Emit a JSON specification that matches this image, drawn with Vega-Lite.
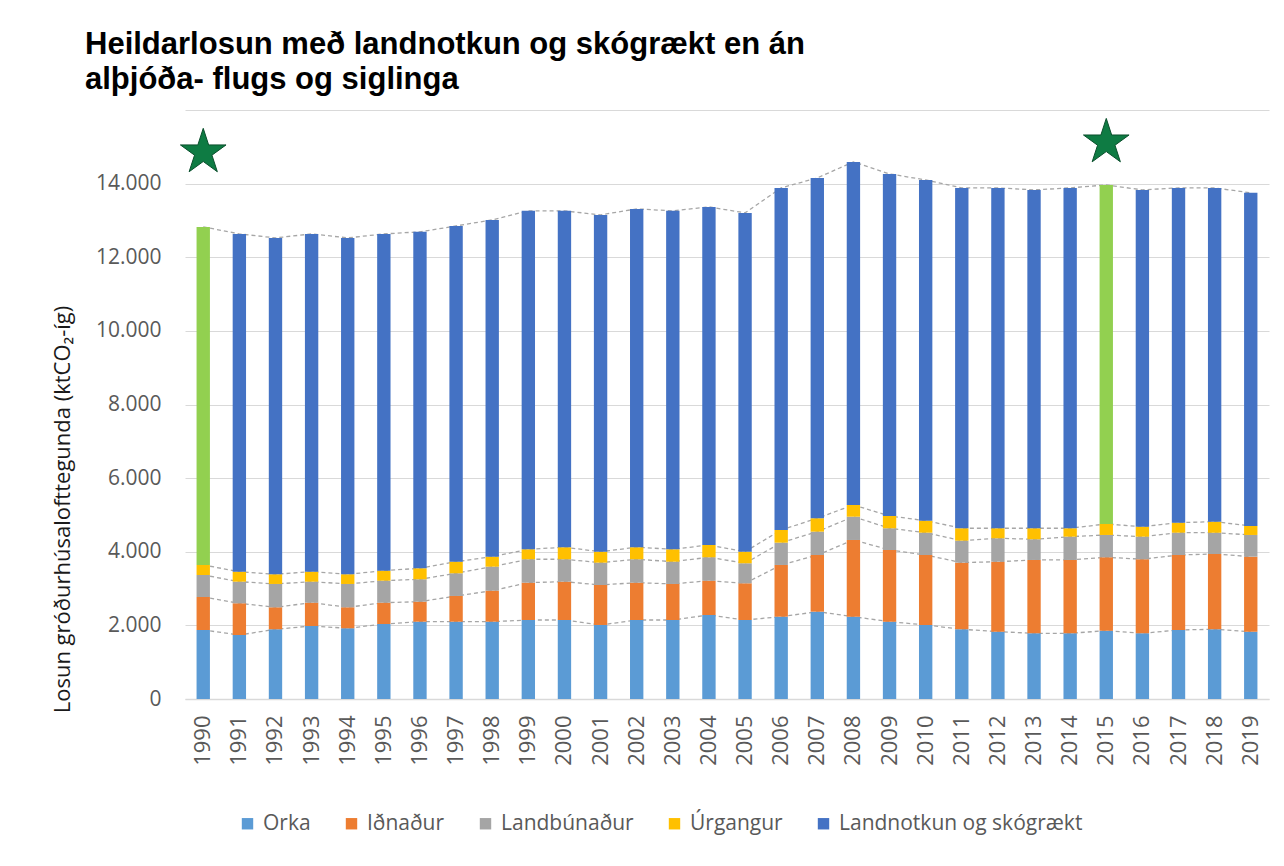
{
  "$schema": "https://vega.github.io/schema/vega-lite/v6.json",
  "width": 1084,
  "height": 589,
  "autosize": {"type": "none"},
  "padding": {"left": 185, "top": 110, "right": 15, "bottom": 167},
  "background": "white",
  "title": {
    "text": ["Heildarlosun með landnotkun og skógrækt en án", "alþjóða- flugs og siglinga"],
    "font": "Liberation Sans",
    "fontWeight": "bold",
    "fontSize": 31,
    "lineHeight": 35,
    "color": "#000000",
    "anchor": "start",
    "frame": "group",
    "dx": -100,
    "offset": 14
  },
  "config": {
    "locale": {"number": {"decimal": ",", "thousands": ".", "grouping": [3], "currency": ["", ""]}},
    "view": {"stroke": null},
    "font": "Open Sans"
  },
  "datasets": {
    "losun": [
      {"year": "1990", "cat": "Orka", "n": 1, "v": 1875}, {"year": "1990", "cat": "Iðnaður", "n": 2, "v": 896}, {"year": "1990", "cat": "Landbúnaður", "n": 3, "v": 598}, {"year": "1990", "cat": "Úrgangur", "n": 4, "v": 272}, {"year": "1990", "cat": "Landnotkun og skógrækt", "n": 5, "v": 9184},
      {"year": "1991", "cat": "Orka", "n": 1, "v": 1739}, {"year": "1991", "cat": "Iðnaður", "n": 2, "v": 861}, {"year": "1991", "cat": "Landbúnaður", "n": 3, "v": 587}, {"year": "1991", "cat": "Úrgangur", "n": 4, "v": 272}, {"year": "1991", "cat": "Landnotkun og skógrækt", "n": 5, "v": 9175},
      {"year": "1992", "cat": "Orka", "n": 1, "v": 1894}, {"year": "1992", "cat": "Iðnaður", "n": 2, "v": 597}, {"year": "1992", "cat": "Landbúnaður", "n": 3, "v": 634}, {"year": "1992", "cat": "Úrgangur", "n": 4, "v": 263}, {"year": "1992", "cat": "Landnotkun og skógrækt", "n": 5, "v": 9138},
      {"year": "1993", "cat": "Orka", "n": 1, "v": 1983}, {"year": "1993", "cat": "Iðnaður", "n": 2, "v": 634}, {"year": "1993", "cat": "Landbúnaður", "n": 3, "v": 570}, {"year": "1993", "cat": "Úrgangur", "n": 4, "v": 272}, {"year": "1993", "cat": "Landnotkun og skógrækt", "n": 5, "v": 9175},
      {"year": "1994", "cat": "Orka", "n": 1, "v": 1921}, {"year": "1994", "cat": "Iðnaður", "n": 2, "v": 570}, {"year": "1994", "cat": "Landbúnaður", "n": 3, "v": 634}, {"year": "1994", "cat": "Úrgangur", "n": 4, "v": 263}, {"year": "1994", "cat": "Landnotkun og skógrækt", "n": 5, "v": 9138},
      {"year": "1995", "cat": "Orka", "n": 1, "v": 2038}, {"year": "1995", "cat": "Iðnaður", "n": 2, "v": 579}, {"year": "1995", "cat": "Landbúnaður", "n": 3, "v": 597}, {"year": "1995", "cat": "Úrgangur", "n": 4, "v": 272}, {"year": "1995", "cat": "Landnotkun og skógrækt", "n": 5, "v": 9148},
      {"year": "1996", "cat": "Orka", "n": 1, "v": 2100}, {"year": "1996", "cat": "Iðnaður", "n": 2, "v": 544}, {"year": "1996", "cat": "Landbúnaður", "n": 3, "v": 608}, {"year": "1996", "cat": "Úrgangur", "n": 4, "v": 299}, {"year": "1996", "cat": "Landnotkun og skógrækt", "n": 5, "v": 9139},
      {"year": "1997", "cat": "Orka", "n": 1, "v": 2100}, {"year": "1997", "cat": "Iðnaður", "n": 2, "v": 699}, {"year": "1997", "cat": "Landbúnaður", "n": 3, "v": 616}, {"year": "1997", "cat": "Úrgangur", "n": 4, "v": 315}, {"year": "1997", "cat": "Landnotkun og skógrækt", "n": 5, "v": 9121},
      {"year": "1998", "cat": "Orka", "n": 1, "v": 2100}, {"year": "1998", "cat": "Iðnaður", "n": 2, "v": 843}, {"year": "1998", "cat": "Landbúnaður", "n": 3, "v": 652}, {"year": "1998", "cat": "Úrgangur", "n": 4, "v": 271}, {"year": "1998", "cat": "Landnotkun og skógrækt", "n": 5, "v": 9149},
      {"year": "1999", "cat": "Orka", "n": 1, "v": 2146}, {"year": "1999", "cat": "Iðnaður", "n": 2, "v": 1014}, {"year": "1999", "cat": "Landbúnaður", "n": 3, "v": 636}, {"year": "1999", "cat": "Úrgangur", "n": 4, "v": 271}, {"year": "1999", "cat": "Landnotkun og skógrækt", "n": 5, "v": 9193},
      {"year": "2000", "cat": "Orka", "n": 1, "v": 2146}, {"year": "2000", "cat": "Iðnaður", "n": 2, "v": 1041}, {"year": "2000", "cat": "Landbúnaður", "n": 3, "v": 609}, {"year": "2000", "cat": "Úrgangur", "n": 4, "v": 326}, {"year": "2000", "cat": "Landnotkun og skógrækt", "n": 5, "v": 9138},
      {"year": "2001", "cat": "Orka", "n": 1, "v": 2011}, {"year": "2001", "cat": "Iðnaður", "n": 2, "v": 1086}, {"year": "2001", "cat": "Landbúnaður", "n": 3, "v": 607}, {"year": "2001", "cat": "Úrgangur", "n": 4, "v": 298}, {"year": "2001", "cat": "Landnotkun og skógrækt", "n": 5, "v": 9148},
      {"year": "2002", "cat": "Orka", "n": 1, "v": 2146}, {"year": "2002", "cat": "Iðnaður", "n": 2, "v": 1014}, {"year": "2002", "cat": "Landbúnaður", "n": 3, "v": 636}, {"year": "2002", "cat": "Úrgangur", "n": 4, "v": 326}, {"year": "2002", "cat": "Landnotkun og skógrækt", "n": 5, "v": 9192},
      {"year": "2003", "cat": "Orka", "n": 1, "v": 2146}, {"year": "2003", "cat": "Iðnaður", "n": 2, "v": 979}, {"year": "2003", "cat": "Landbúnaður", "n": 3, "v": 605}, {"year": "2003", "cat": "Úrgangur", "n": 4, "v": 337}, {"year": "2003", "cat": "Landnotkun og skógrækt", "n": 5, "v": 9193},
      {"year": "2004", "cat": "Orka", "n": 1, "v": 2282}, {"year": "2004", "cat": "Iðnaður", "n": 2, "v": 932}, {"year": "2004", "cat": "Landbúnaður", "n": 3, "v": 636}, {"year": "2004", "cat": "Úrgangur", "n": 4, "v": 334}, {"year": "2004", "cat": "Landnotkun og skógrækt", "n": 5, "v": 9184},
      {"year": "2005", "cat": "Orka", "n": 1, "v": 2146}, {"year": "2005", "cat": "Iðnaður", "n": 2, "v": 997}, {"year": "2005", "cat": "Landbúnaður", "n": 3, "v": 544}, {"year": "2005", "cat": "Úrgangur", "n": 4, "v": 315}, {"year": "2005", "cat": "Landnotkun og skógrækt", "n": 5, "v": 9203},
      {"year": "2006", "cat": "Orka", "n": 1, "v": 2236}, {"year": "2006", "cat": "Iðnaður", "n": 2, "v": 1405}, {"year": "2006", "cat": "Landbúnaður", "n": 3, "v": 606}, {"year": "2006", "cat": "Úrgangur", "n": 4, "v": 345}, {"year": "2006", "cat": "Landnotkun og skógrækt", "n": 5, "v": 9292},
      {"year": "2007", "cat": "Orka", "n": 1, "v": 2372}, {"year": "2007", "cat": "Iðnaður", "n": 2, "v": 1540}, {"year": "2007", "cat": "Landbúnaður", "n": 3, "v": 634}, {"year": "2007", "cat": "Úrgangur", "n": 4, "v": 364}, {"year": "2007", "cat": "Landnotkun og skógrækt", "n": 5, "v": 9246},
      {"year": "2008", "cat": "Orka", "n": 1, "v": 2236}, {"year": "2008", "cat": "Iðnaður", "n": 2, "v": 2084}, {"year": "2008", "cat": "Landbúnaður", "n": 3, "v": 633}, {"year": "2008", "cat": "Úrgangur", "n": 4, "v": 318}, {"year": "2008", "cat": "Landnotkun og skógrækt", "n": 5, "v": 9319},
      {"year": "2009", "cat": "Orka", "n": 1, "v": 2100}, {"year": "2009", "cat": "Iðnaður", "n": 2, "v": 1948}, {"year": "2009", "cat": "Landbúnaður", "n": 3, "v": 590}, {"year": "2009", "cat": "Úrgangur", "n": 4, "v": 334}, {"year": "2009", "cat": "Landnotkun og skógrækt", "n": 5, "v": 9292},
      {"year": "2010", "cat": "Orka", "n": 1, "v": 2011}, {"year": "2010", "cat": "Iðnaður", "n": 2, "v": 1901}, {"year": "2010", "cat": "Landbúnaður", "n": 3, "v": 606}, {"year": "2010", "cat": "Úrgangur", "n": 4, "v": 326}, {"year": "2010", "cat": "Landnotkun og skógrækt", "n": 5, "v": 9256},
      {"year": "2011", "cat": "Orka", "n": 1, "v": 1894}, {"year": "2011", "cat": "Iðnaður", "n": 2, "v": 1810}, {"year": "2011", "cat": "Landbúnaður", "n": 3, "v": 597}, {"year": "2011", "cat": "Úrgangur", "n": 4, "v": 337}, {"year": "2011", "cat": "Landnotkun og skógrækt", "n": 5, "v": 9246},
      {"year": "2012", "cat": "Orka", "n": 1, "v": 1829}, {"year": "2012", "cat": "Iðnaður", "n": 2, "v": 1901}, {"year": "2012", "cat": "Landbúnaður", "n": 3, "v": 636}, {"year": "2012", "cat": "Úrgangur", "n": 4, "v": 272}, {"year": "2012", "cat": "Landnotkun og skógrækt", "n": 5, "v": 9246},
      {"year": "2013", "cat": "Orka", "n": 1, "v": 1785}, {"year": "2013", "cat": "Iðnaður", "n": 2, "v": 1992}, {"year": "2013", "cat": "Landbúnaður", "n": 3, "v": 562}, {"year": "2013", "cat": "Úrgangur", "n": 4, "v": 299}, {"year": "2013", "cat": "Landnotkun og skógrækt", "n": 5, "v": 9192},
      {"year": "2014", "cat": "Orka", "n": 1, "v": 1785}, {"year": "2014", "cat": "Iðnaður", "n": 2, "v": 1992}, {"year": "2014", "cat": "Landbúnaður", "n": 3, "v": 633}, {"year": "2014", "cat": "Úrgangur", "n": 4, "v": 228}, {"year": "2014", "cat": "Landnotkun og skógrækt", "n": 5, "v": 9246},
      {"year": "2015", "cat": "Orka", "n": 1, "v": 1856}, {"year": "2015", "cat": "Iðnaður", "n": 2, "v": 1994}, {"year": "2015", "cat": "Landbúnaður", "n": 3, "v": 606}, {"year": "2015", "cat": "Úrgangur", "n": 4, "v": 299}, {"year": "2015", "cat": "Landnotkun og skógrækt", "n": 5, "v": 9210},
      {"year": "2016", "cat": "Orka", "n": 1, "v": 1785}, {"year": "2016", "cat": "Iðnaður", "n": 2, "v": 2011}, {"year": "2016", "cat": "Landbúnaður", "n": 3, "v": 614}, {"year": "2016", "cat": "Úrgangur", "n": 4, "v": 271}, {"year": "2016", "cat": "Landnotkun og skógrækt", "n": 5, "v": 9149},
      {"year": "2017", "cat": "Orka", "n": 1, "v": 1875}, {"year": "2017", "cat": "Iðnaður", "n": 2, "v": 2037}, {"year": "2017", "cat": "Landbúnaður", "n": 3, "v": 606}, {"year": "2017", "cat": "Úrgangur", "n": 4, "v": 272}, {"year": "2017", "cat": "Landnotkun og skógrækt", "n": 5, "v": 9094},
      {"year": "2018", "cat": "Orka", "n": 1, "v": 1894}, {"year": "2018", "cat": "Iðnaður", "n": 2, "v": 2046}, {"year": "2018", "cat": "Landbúnaður", "n": 3, "v": 578}, {"year": "2018", "cat": "Úrgangur", "n": 4, "v": 299}, {"year": "2018", "cat": "Landnotkun og skógrækt", "n": 5, "v": 9067},
      {"year": "2019", "cat": "Orka", "n": 1, "v": 1829}, {"year": "2019", "cat": "Iðnaður", "n": 2, "v": 2037}, {"year": "2019", "cat": "Landbúnaður", "n": 3, "v": 590}, {"year": "2019", "cat": "Úrgangur", "n": 4, "v": 244}, {"year": "2019", "cat": "Landnotkun og skógrækt", "n": 5, "v": 9050}
    ],
    "stjornur": [
      {"year": "1990", "v": 14850},
      {"year": "2015", "v": 15120}
    ]
  },
  "data": {"name": "losun"},
  "transform": [
    {"stack": "v", "groupby": ["year"], "sort": [{"field": "n", "order": "ascending"}], "as": ["lo", "hi"]}
  ],
  "encoding": {
    "x": {
      "field": "year",
      "type": "ordinal",
      "scale": {"paddingInner": 0.63, "paddingOuter": 0.32},
      "axis": {
        "title": null,
        "labelAngle": -90,
        "labelFontSize": 22,
        "labelColor": "#595959",
        "labelPadding": 16,
        "ticks": false,
        "domainColor": "#d9d9d9",
        "domainWidth": 1.5
      }
    }
  },
  "layer": [
    {
      "mark": {"type": "line", "color": "#a6a6a6", "strokeWidth": 1.3, "strokeDash": [4, 3]},
      "encoding": {
        "y": {"field": "hi", "type": "quantitative"},
        "detail": {"field": "cat", "type": "nominal"}
      }
    },
    {
      "mark": {"type": "bar"},
      "encoding": {
        "y": {
          "field": "hi",
          "type": "quantitative",
          "scale": {"domain": [0, 16000], "nice": false},
          "axis": {
            "title": "Losun gróðurhúsalofttegunda (ktCO₂-íg)",
            "titleFont": "Open Sans",
            "titleFontSize": 22,
            "titleFontWeight": "normal",
            "titleColor": "#1a1a1a",
            "titleAngle": -90,
            "titleX": -123,
            "titleY": 399,
            "titleAlign": "center",
            "titleBaseline": "middle",
            "values": [0, 2000, 4000, 6000, 8000, 10000, 12000, 14000, 16000],
            "format": ",d",
            "labelExpr": "datum.value == 16000 ? '' : datum.label",
            "labelFontSize": 21,
            "labelColor": "#595959",
            "labelPadding": 24,
            "ticks": false,
            "domain": false,
            "gridColor": "#d9d9d9",
            "gridWidth": 1.2
          }
        },
        "y2": {"field": "lo"},
        "color": {
          "condition": {
            "test": "datum.cat == 'Landnotkun og skógrækt' && (datum.year == '1990' || datum.year == '2015')",
            "value": "#92D050"
          },
          "field": "cat",
          "type": "nominal",
          "scale": {
            "domain": ["Orka", "Iðnaður", "Landbúnaður", "Úrgangur", "Landnotkun og skógrækt"],
            "range": ["#5B9BD5", "#ED7D31", "#A5A5A5", "#FFC000", "#4472C4"]
          },
          "legend": {
            "title": null,
            "orient": "none",
            "direction": "horizontal",
            "legendX": 52,
            "legendY": 703,
            "symbolType": "square",
            "symbolSize": 130,
            "symbolStrokeWidth": 0,
            "labelFont": "Open Sans",
            "labelFontSize": 21,
            "labelColor": "#595959",
            "labelOffset": 5,
            "labelLimit": 400,
            "columnPadding": 30
          }
        }
      }
    },
    {
      "data": {"name": "stjornur"},
      "transform": [],
      "mark": {
        "type": "point",
        "shape": "M0,-1L0.225,-0.309L0.951,-0.309L0.363,0.118L0.588,0.809L0,0.382L-0.588,0.809L-0.363,0.118L-0.951,-0.309L-0.225,-0.309Z",
        "size": 2300,
        "filled": true,
        "fill": "#0E7B43",
        "stroke": "#0A4F2C",
        "strokeWidth": 1,
        "opacity": 1
      },
      "encoding": {
        "y": {"field": "v", "type": "quantitative"}
      }
    }
  ]
}
